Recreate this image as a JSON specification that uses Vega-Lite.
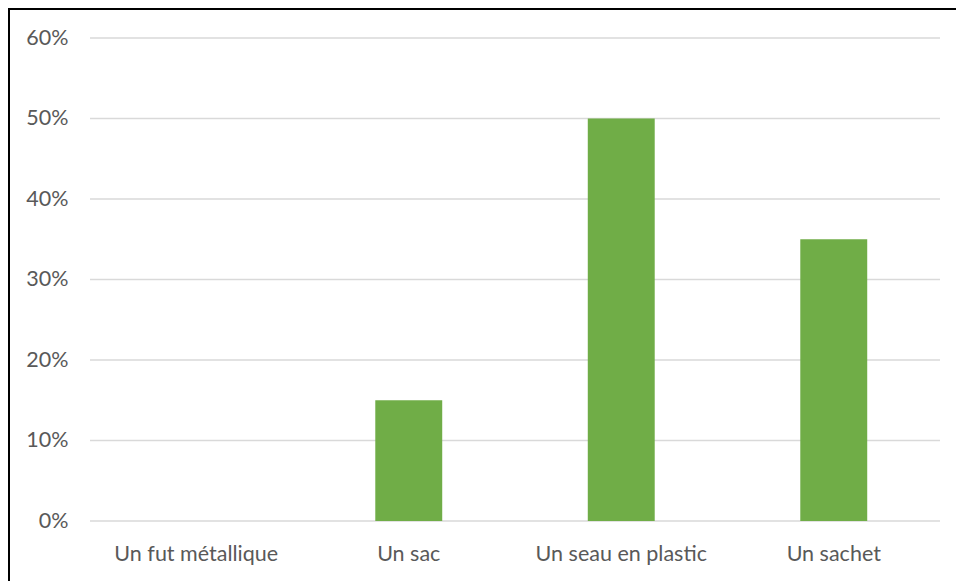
{
  "$schema": "https://vega.github.io/schema/vega-lite/v6.json",
  "autosize": {"type": "none"},
  "padding": {"left": 9, "top": 9, "right": 0, "bottom": 0},
  "width": 962,
  "height": 580,
  "background": "white",
  "config": {
    "view": {"stroke": "black", "strokeWidth": 2},
    "font": "Lato",
    "axis": {"labelFont": "Lato", "labelFontSize": 21.5, "labelColor": "#595959", "labelFontWeight": "normal"}
  },
  "datasets": {
    "parts": [
      {"contenant": "Un fut métallique", "part": 0},
      {"contenant": "Un sac", "part": 0.15},
      {"contenant": "Un seau en plastic", "part": 0.5},
      {"contenant": "Un sachet", "part": 0.35}
    ],
    "graduations": [
      {"niveau": 0}, {"niveau": 0.1}, {"niveau": 0.2}, {"niveau": 0.3},
      {"niveau": 0.4}, {"niveau": 0.5}, {"niveau": 0.6}
    ]
  },
  "layer": [
    {
      "data": {"name": "graduations"},
      "mark": {"type": "rule", "color": "#D9D9D9", "strokeWidth": 1.5},
      "encoding": {
        "y": {
          "field": "niveau", "type": "quantitative",
          "scale": {"domain": [0, 0.6], "range": [512, 29], "nice": false, "zero": true},
          "axis": {
            "values": [0, 0.1, 0.2, 0.3, 0.4, 0.5, 0.6],
            "format": ".0%",
            "orient": "left",
            "offset": -61,
            "labelPadding": 2,
            "ticks": false,
            "domain": false,
            "grid": false,
            "title": null
          }
        },
        "x": {
          "datum": 0, "type": "quantitative",
          "scale": {"domain": [0, 1], "range": [81, 931], "nice": false, "zero": false},
          "axis": null
        },
        "x2": {"datum": 1}
      }
    },
    {
      "data": {"name": "parts"},
      "mark": {"type": "bar", "color": "#70AD47"},
      "encoding": {
        "x": {
          "field": "contenant", "type": "nominal", "sort": null,
          "scale": {"type": "band", "range": [81, 931], "paddingInner": 0.685, "paddingOuter": 0.3425},
          "axis": {
            "orient": "bottom",
            "offset": -46,
            "labelPadding": 0,
            "labelAngle": 0,
            "ticks": false,
            "domain": false,
            "grid": false,
            "title": null
          }
        },
        "y": {"field": "part", "type": "quantitative"}
      }
    }
  ],
  "resolve": {"scale": {"x": "independent"}}
}
